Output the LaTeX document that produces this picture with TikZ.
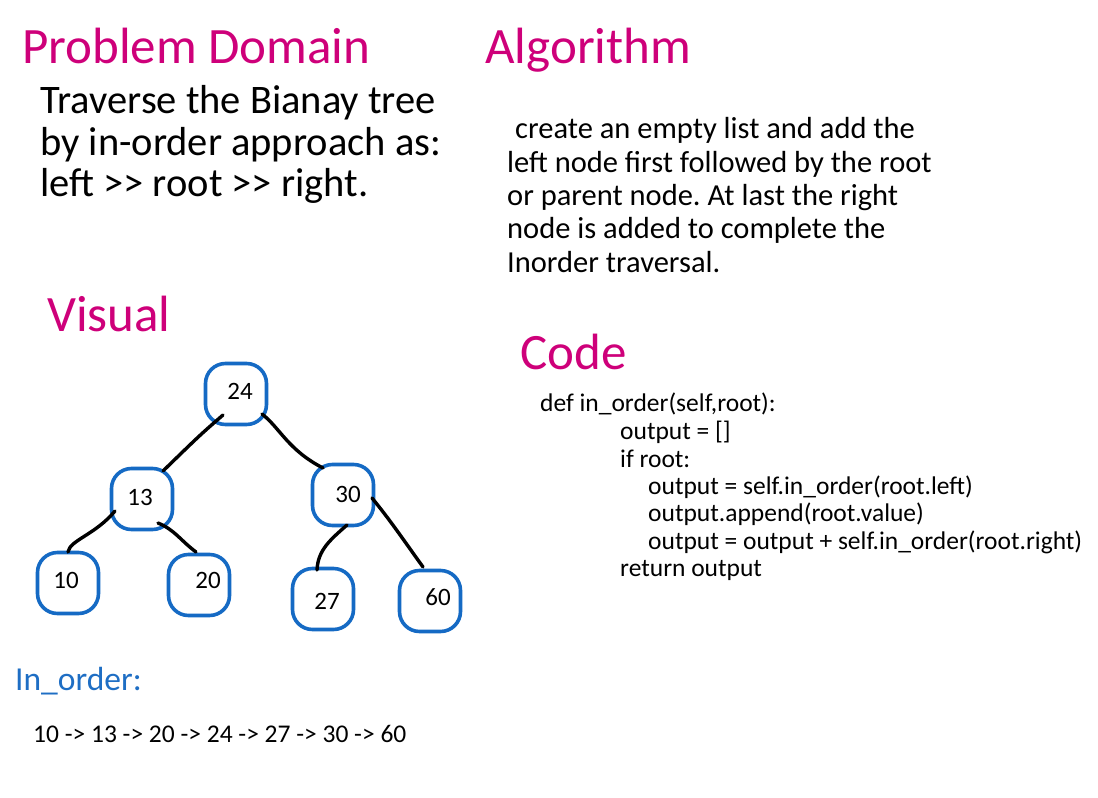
\documentclass[tikz,border=0pt]{standalone}
\usepackage{fontspec}
\setmainfont{Carlito}
\frenchspacing
\definecolor{head}{RGB}{206,0,122}
\definecolor{treeblue}{RGB}{21,106,196}
\definecolor{inblue}{RGB}{30,110,196}
\tikzset{
  heading/.style={anchor=base west, inner sep=0pt, text=head, font=\fontsize{51}{60}\selectfont},
  body/.style={anchor=base west, inner sep=0pt, font=\fontsize{40.5}{46}\selectfont},
  algo/.style={anchor=base west, inner sep=0pt, font=\fontsize{30.5}{36}\selectfont},
  code/.style={anchor=base west, inner sep=0pt, font=\fontsize{25.5}{30}\selectfont},
  tnode/.style={draw=treeblue, line width=3.6pt, rounded corners=20pt, minimum width=61pt, minimum height=61pt, inner sep=0pt},
  tlabel/.style={anchor=center, inner sep=0pt, font=\fontsize{25}{28}\selectfont},
  edge/.style={line width=3.4pt, line cap=round, black}
}
\begin{document}
\begin{tikzpicture}[x=1pt,y=-1pt]
\useasboundingbox (0,0) rectangle (1098,798);
% headings
\node[heading] (hpd) at (22,63) {Problem Domain};
\node[heading] (halg) at (485,63) {Algorithm};
\node[heading] (hvis) at (47,331) {Visual};
\node[heading] (hcode) at (520,369) {Code};
% problem domain
\node[body] (pd1) at (40,113) {Traverse the Bianay tree};
\node[body] (pd2) at (40,155) {by in-order approach as:};
\node[body] (pd3) at (40,196) {left >{}> root >{}> right.};
% algorithm
\node[algo] (al1) at (515,138) {create an empty list and add the};
\node[algo] (al2) at (507,172) {left node first followed by the root};
\node[algo] (al3) at (507,205) {or parent node. At last the right};
\node[algo] (al4) at (507,238) {node is added to complete the};
\node[algo] (al5) at (507,272) {Inorder traversal.};
% code
\node[code] (c1) at (540,411) {def in\_order(self,root):};
\node[code] (c2) at (620,439) {output = []};
\node[code] (c3) at (620,467) {if root:};
\node[code] (c4) at (648,494) {output = self.in\_order(root.left)};
\node[code] (c5) at (648,521) {output.append(root.value)};
\node[code] (c6) at (648,549) {output = output + self.in\_order(root.right)};
\node[code] (c7) at (620,576) {return output};
% tree
\node[tnode] (n24) at (236,394) {};
\node[tnode] (n13) at (142,499) {};
\node[tnode] (n30) at (343,495) {};
\node[tnode] (n10) at (68,583) {};
\node[tnode] (n20) at (199,585) {};
\node[tnode] (n27) at (323,599) {};
\node[tnode] (n60) at (430,601) {};
\node[tlabel] (l24) at (240,391) {24};
\node[tlabel] (l13) at (140,497) {13};
\node[tlabel] (l30) at (348,494) {30};
\node[tlabel] (l10) at (66,580) {10};
\node[tlabel] (l20) at (208,580) {20};
\node[tlabel] (l27) at (327,601) {27};
\node[tlabel] (l60) at (438,597) {60};
\path (n24) ++(-13,21) coordinate (a1) (n13) ++(21,-28) coordinate (b1);
\draw[edge] (a1) .. controls (200,435) .. (b1);
\path (n24) ++(26,20) coordinate (a2) (n30) ++(-20,-27) coordinate (b2);
\draw[edge] (a2) .. controls (280,428) and (288,450) .. (b2);
\path (n13) ++(-27,12) coordinate (a3) (n10) ++(0,-31) coordinate (b3);
\draw[edge] (a3) .. controls (95,535) and (70,540) .. (b3);
\path (n13) ++(16,24) coordinate (a4) (n20) ++(-3,-33) coordinate (b4);
\draw[edge] (a4) .. controls (175,530) and (180,540) .. (b4);
\path (n30) ++(4,30) coordinate (a5) (n27) ++(-6,-29) coordinate (b5);
\draw[edge] (a5) .. controls (330,540) and (318,550) .. (b5);
\path (n30) ++(29,3) coordinate (a6) (n60) ++(-7,-34) coordinate (b6);
\draw[edge] (a6) .. controls (390,520) and (400,535) .. (b6);
% in order
\node[anchor=base west, inner sep=0pt, text=inblue, font=\fontsize{33.5}{38}\selectfont] (inord) at (15,690) {In\_order:};
\node[anchor=base west, inner sep=0pt, font=\fontsize{25.5}{30}\selectfont] (seq) at (33,742) {10 -> 13 -> 20 -> 24 -> 27 -> 30 -> 60};
\end{tikzpicture}
\end{document}
